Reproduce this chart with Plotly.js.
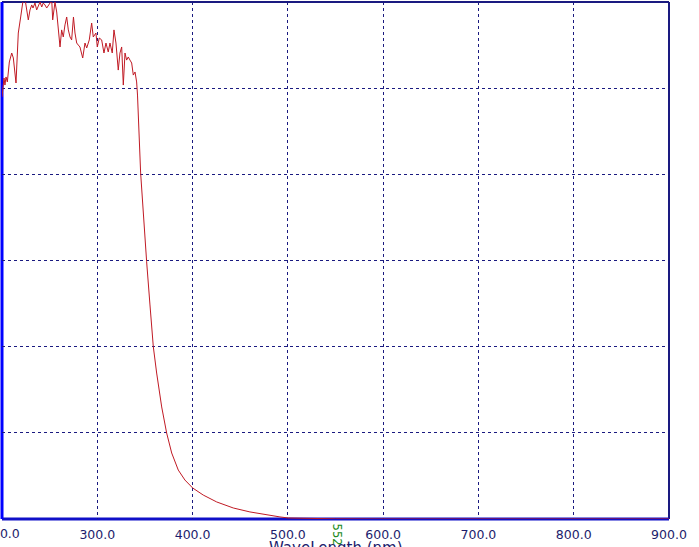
<!DOCTYPE html>
<html>
<head>
<meta charset="utf-8">
<script src="https://cdn.plot.ly/plotly-3.0.1.min.js"></script>
<style>
  html, body { margin: 0; padding: 0; background: #fff; }
  #plot { width: 699px; height: 547px; }
</style>
</head>
<body>
<div id="plot"></div>
<script>
// spectrum (wavelength in nm, absorbance)
var wavelength = [
    200.0, 201.0, 202.1, 203.1, 204.2, 205.6, 207.7, 210.2, 211.9, 214.7,
    217.1, 219.6, 221.7, 224.1, 225.9, 227.6, 229.4, 231.2, 232.5, 234.6,
    236.4, 238.1, 239.9, 241.7, 243.3, 245.1, 246.9, 250.4, 252.2, 253.2,
    255.6, 257.4, 259.1, 260.9, 262.6, 264.3, 266.1, 267.9, 269.6, 271.4,
    273.1, 275.0, 276.6, 278.4, 280.1, 281.8, 284.7, 287.1, 288.9, 291.6,
    294.1, 295.8, 298.6, 300.0, 302.1, 304.6, 307.0, 309.1, 311.5, 313.3,
    315.7, 317.5, 319.6, 322.0, 323.8, 325.6, 327.3, 329.1, 330.8, 332.5,
    334.3, 336.1, 337.8, 339.6, 341.3, 342.2, 345.5, 348.5, 351.8, 355.3,
    358.8, 362.3, 367.6, 372.8, 378.1, 385.0, 392.0, 400.1, 411.2, 425.3,
    442.7, 460.2, 477.7, 491.7, 500.4, 520.0, 550.0, 600.0, 700.0, 800.0,
    900.0
];
var absorbance = [
    2.449, 2.489, 2.559, 2.518, 2.565, 2.536, 2.652, 2.704, 2.675, 2.530,
    2.820, 2.913, 2.994, 3.020, 2.954, 2.896, 2.954, 2.983, 2.965, 2.994,
    2.954, 2.983, 3.000, 2.971, 2.994, 2.983, 2.965, 2.994, 3.010, 2.896,
    3.000, 2.942, 2.855, 2.739, 2.838, 2.797, 2.867, 2.913, 2.838, 2.797,
    2.780, 2.913, 2.820, 2.762, 2.750, 2.739, 2.675, 2.762, 2.733, 2.780,
    2.878, 2.797, 2.820, 2.739, 2.791, 2.780, 2.704, 2.762, 2.710, 2.762,
    2.704, 2.838, 2.762, 2.605, 2.704, 2.739, 2.518, 2.704, 2.663, 2.681,
    2.663, 2.646, 2.576, 2.594, 2.536, 2.460, 2.008, 1.752, 1.493, 1.242,
    1.000, 0.847, 0.650, 0.499, 0.383, 0.284, 0.226, 0.180, 0.139, 0.099,
    0.064, 0.041, 0.023, 0.012, 0.006, 0.003, 0.001, 0.000, 0.000, 0.000,
    0.000
];
var markerWl = 552;
var markerLabel = '552';
var firstTick = '200.0';
var xTitle = 'WaveLength (nm)';

var navy = '#1a1a80';
var tickCol = '#1c1c6c';

var spectrum = {
    x: wavelength,
    y: absorbance,
    type: 'scatter',
    mode: 'lines',
    line: { color: '#c01a24', width: 1 },
    hoverinfo: 'x+y'
};

var layout = {
    width: 699,
    height: 547,
    margin: { l: 2, r: 30, t: 2, b: 28 },
    paper_bgcolor: '#ffffff',
    plot_bgcolor: '#ffffff',
    showlegend: false,
    font: { family: 'DejaVu Sans, Verdana, sans-serif', size: 12, color: tickCol },
    xaxis: {
        range: [200, 900],
        dtick: 100,
        tick0: 200,
        tickformat: '.1f',
        ticks: '',
        ticklabelstandoff: 6,
        showgrid: true,
        gridcolor: navy,
        gridwidth: 1,
        griddash: '3px,3px',
        zeroline: false,
        showline: false,
        tickfont: { size: 12.5, color: tickCol },
        automargin: false
    },
    yaxis: {
        range: [0, 3],
        dtick: 0.5,
        showticklabels: false,
        ticks: '',
        showgrid: true,
        gridcolor: navy,
        gridwidth: 1,
        griddash: '3px,3px',
        zeroline: false,
        showline: false,
        automargin: false
    },
    shapes: [
        { type: 'line', xref: 'paper', yref: 'paper', x0: 0, x1: 1, y0: 1, y1: 1,
          line: { color: navy, width: 2 }, layer: 'below' },
        { type: 'line', xref: 'paper', yref: 'paper', x0: 1, x1: 1, y0: 0, y1: 1,
          line: { color: navy, width: 2 }, layer: 'below' },
        { type: 'line', xref: 'paper', yref: 'paper', x0: 0, x1: 1, y0: 0, y1: 0,
          line: { color: '#1010c8', width: 3 }, layer: 'below' },
        { type: 'line', xref: 'paper', yref: 'paper', x0: 0, x1: 0, y0: 0, y1: 1,
          line: { color: '#0000ff', width: 3 }, layer: 'below' }
    ],
    annotations: [
        { x: 0.5, xref: 'paper', y: 0, yref: 'paper', yanchor: 'top', xanchor: 'center',
          yshift: -18, text: xTitle, showarrow: false,
          font: { size: 15, color: tickCol } },
        { x: markerWl, xref: 'x', y: 0, yref: 'paper', yanchor: 'top', xanchor: 'center',
          yshift: -3, text: markerLabel, showarrow: false, textangle: 90,
          font: { size: 11.5, color: '#1a8a1a' } },
        { x: 200, xref: 'x', y: 0, yref: 'paper', yanchor: 'top', xanchor: 'center',
          yshift: -5, text: firstTick, showarrow: false,
          font: { size: 12.5, color: tickCol } }
    ]
};

Plotly.newPlot(document.getElementById('plot'), [spectrum], layout, { displayModeBar: false, staticPlot: true });
</script>
</body>
</html>
